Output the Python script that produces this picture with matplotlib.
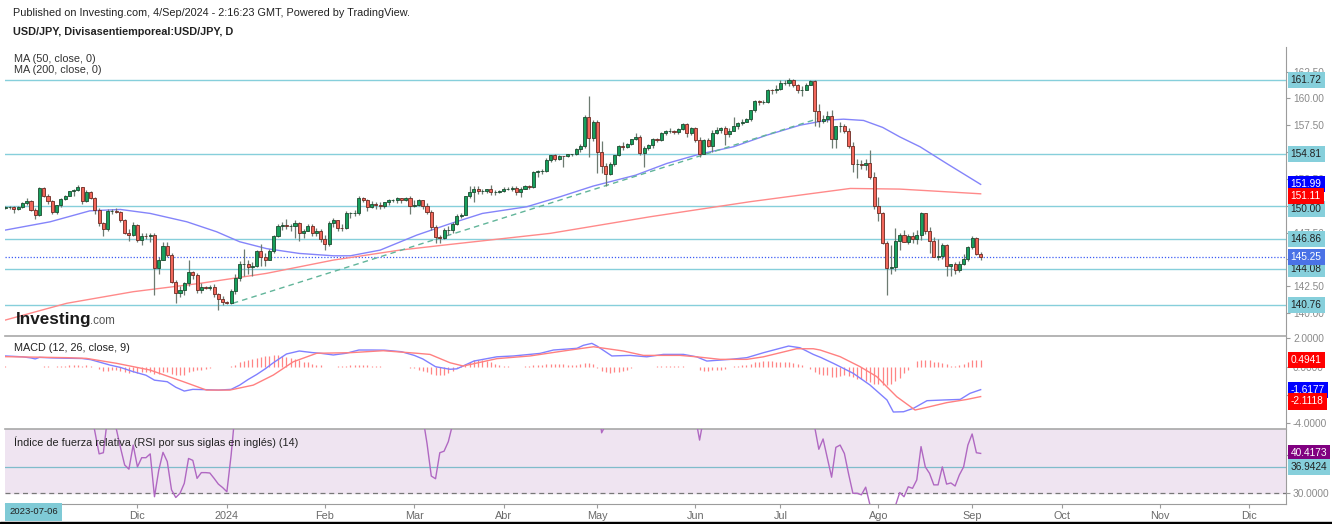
import numpy as np
import pandas as pd
import matplotlib
matplotlib.use('Agg')
import matplotlib.pyplot as plt
from matplotlib.patches import Rectangle

plt.rcParams['font.family'] = ['Liberation Sans', 'DejaVu Sans']

# ---------------- data ----------------
first_day = '2023-10-19'  # first daily bar at the left edge

# daily candles, one line per month (Oct 2023 ... Sep 2024)
opens = [
    149.80, 149.85, 149.85, 149.70, 149.90, 150.25, 150.40, 149.60, 149.10,
    151.68, 150.95, 150.40, 149.40, 150.05, 150.60, 150.95, 151.35, 151.50, 151.70, 150.40, 151.30, 150.70, 149.60, 148.35, 147.85, 149.55, 149.55, 149.45, 148.65, 147.50, 147.25,
    148.20, 146.80, 147.20, 147.15, 147.30, 144.15, 144.95, 146.20, 145.40, 142.90, 141.90, 142.15, 142.80, 143.80, 143.55, 142.10, 142.40, 142.35, 142.40, 141.80, 141.30,
    141.00, 140.95, 142.00, 143.25, 144.60, 144.60, 144.25, 144.40, 145.75, 145.25, 144.90, 145.75, 147.20, 148.15, 148.20, 148.10, 148.10, 148.40, 147.50, 147.65, 148.15, 147.50, 147.60,
    146.90, 146.40, 148.40, 148.65, 147.95, 147.90, 149.30, 149.30, 149.35, 150.75, 150.55, 149.90, 150.20, 150.10, 150.00, 150.30, 150.50, 150.50, 150.70, 150.50, 150.70,
    149.95, 150.10, 150.50, 150.00, 149.40, 148.05, 147.05, 146.95, 147.70, 147.75, 148.30, 149.05, 149.15, 150.90, 151.25, 151.60, 151.40, 151.40, 151.55, 151.30, 151.30,
    151.35, 151.60, 151.60, 151.65, 151.30, 151.60, 151.85, 151.75, 153.15, 153.25, 153.25, 154.25, 154.70, 154.40, 154.65, 154.60, 154.80, 154.80, 155.30, 155.60, 158.30, 156.35,
    157.80, 155.00, 153.70, 153.00, 153.90, 154.70, 155.55, 155.45, 155.75, 156.20, 156.45, 154.90, 155.40, 155.65, 156.25, 156.15, 156.80, 156.95, 157.00, 156.85, 157.15, 157.65, 156.80,
    157.25, 156.10, 154.85, 156.10, 155.60, 156.75, 157.05, 157.20, 156.65, 157.00, 157.40, 157.70, 157.85, 158.10, 158.90, 159.80, 159.65, 159.70, 160.80, 160.75,
    160.85, 161.45, 161.45, 161.70, 161.25, 160.75, 160.80, 161.30, 161.65, 158.85, 157.90, 158.05, 158.35, 156.20, 157.40, 157.45, 157.00, 155.60, 153.90, 153.90, 153.75, 154.00, 152.70,
    149.95, 149.35, 146.55, 144.20, 144.30, 146.75, 147.30, 146.60, 147.20, 146.85, 147.30, 149.30, 147.60, 146.70, 145.25, 145.30, 146.30, 144.35, 144.55, 144.00, 144.60, 145.00,
    146.15, 146.95, 145.50,
]
highs = [
    149.95, 150.00, 149.95, 149.95, 150.30, 150.75, 150.50, 149.80, 151.72,
    151.72, 151.10, 150.50, 150.10, 150.70, 151.00, 151.40, 151.60, 151.90, 151.72, 151.45, 151.40, 150.80, 149.75, 148.50, 149.70, 149.70, 149.75, 149.55, 148.80, 147.80, 148.50,
    148.30, 147.45, 147.50, 147.50, 147.45, 145.20, 146.60, 146.60, 145.60, 143.10, 142.50, 142.90, 144.95, 143.90, 143.70, 142.80, 142.50, 142.60, 142.70, 141.90, 141.60,
    141.10, 142.20, 143.60, 144.80, 145.95, 144.90, 144.75, 145.85, 146.40, 145.55, 146.00, 147.30, 148.30, 148.50, 148.80, 148.25, 148.70, 148.50, 147.80, 148.25, 148.30, 147.90, 147.80,
    147.25, 148.55, 148.90, 148.70, 148.25, 149.55, 149.45, 149.60, 150.90, 150.85, 150.60, 150.45, 150.30, 150.35, 150.35, 150.60, 150.60, 150.80, 150.75, 150.85, 150.90,
    150.50, 150.60, 150.55, 150.25, 149.60, 148.20, 147.30, 147.95, 148.15, 148.45, 149.20, 149.30, 150.95, 151.80, 151.85, 151.85, 151.60, 151.60, 151.97, 151.45, 151.45,
    151.75, 151.75, 151.80, 151.80, 151.75, 151.95, 151.95, 153.25, 153.30, 153.40, 154.45, 154.75, 154.80, 154.70, 154.65, 154.85, 154.85, 155.35, 155.75, 158.45, 160.20, 157.95,
    157.95, 156.00, 153.95, 154.05, 154.75, 155.65, 155.95, 155.85, 156.25, 156.75, 156.55, 155.55, 155.75, 156.35, 156.35, 156.85, 157.10, 157.20, 157.05, 157.25, 157.70, 157.75, 157.30,
    157.30, 156.40, 156.25, 156.30, 157.05, 157.35, 157.35, 157.40, 157.20, 158.25, 157.80, 158.05, 158.20, 158.95, 159.85, 159.90, 159.85, 160.85, 160.90, 161.25,
    161.70, 161.75, 161.95, 161.85, 161.35, 161.15, 161.45, 161.75, 161.75, 159.45, 158.45, 158.85, 158.90, 157.45, 157.85, 157.60, 157.20, 155.90, 154.40, 154.30, 154.35, 155.20, 153.10,
    150.85, 149.45, 146.75, 146.35, 147.90, 147.50, 147.70, 147.40, 147.55, 147.75, 149.40, 149.35, 148.05, 147.10, 146.85, 146.50, 146.40, 144.60, 144.75, 144.85, 145.50, 146.25,
    147.20, 147.05, 145.65,
]
lows = [
    149.65, 149.65, 149.35, 149.60, 149.75, 150.10, 149.50, 148.80, 149.00,
    150.80, 150.20, 149.20, 149.20, 149.90, 150.50, 150.90, 150.90, 151.40, 150.15, 150.30, 150.60, 149.20, 148.10, 147.15, 147.60, 149.20, 149.30, 148.50, 147.40, 146.70, 147.15,
    146.65, 146.30, 146.85, 146.60, 141.65, 143.60, 144.90, 145.20, 142.80, 140.95, 141.50, 141.70, 142.55, 143.20, 141.90, 141.90, 142.20, 142.10, 141.50, 140.30, 140.70,
    140.85, 140.80, 141.80, 143.00, 143.40, 143.65, 143.40, 144.30, 144.35, 144.35, 144.90, 145.60, 147.05, 147.70, 147.80, 147.60, 146.95, 146.70, 147.00, 147.60, 147.20, 147.15, 146.65,
    145.90, 146.20, 148.05, 147.60, 147.60, 147.80, 148.90, 149.00, 149.15, 150.35, 149.55, 149.75, 149.70, 149.65, 149.80, 150.10, 150.30, 150.25, 150.25, 150.40, 149.20,
    149.90, 150.00, 149.70, 149.25, 147.70, 146.50, 146.50, 146.85, 147.30, 147.50, 148.20, 148.90, 149.10, 150.70, 150.30, 151.10, 151.10, 151.20, 151.00, 151.00, 151.20,
    151.30, 151.50, 151.40, 151.00, 150.80, 151.55, 151.55, 151.65, 152.70, 152.95, 153.10, 154.05, 154.15, 154.25, 153.60, 154.55, 154.60, 154.75, 155.00, 155.35, 154.55, 156.05,
    153.05, 153.05, 151.86, 152.90, 153.70, 154.60, 155.20, 155.35, 155.70, 156.10, 154.70, 153.60, 155.20, 155.40, 155.95, 156.00, 156.60, 156.80, 156.70, 156.65, 157.10, 156.40, 156.60,
    155.95, 154.55, 154.80, 155.45, 155.00, 156.70, 156.80, 155.70, 156.45, 156.95, 157.15, 157.55, 157.80, 157.90, 158.75, 159.35, 159.45, 159.55, 160.40, 160.55,
    160.80, 161.30, 161.20, 161.05, 160.50, 160.25, 160.75, 161.25, 157.45, 157.35, 157.70, 157.80, 155.35, 155.35, 156.85, 156.80, 155.35, 153.10, 152.60, 153.40, 153.30, 152.50, 149.65,
    148.55, 146.45, 141.70, 143.60, 143.95, 145.85, 146.60, 146.40, 146.55, 146.40, 146.80, 147.40, 145.60, 145.20, 144.95, 145.00, 143.45, 143.45, 143.60, 143.80, 144.50, 144.85,
    146.00, 145.40, 144.90,
]
closes = [
    149.85, 149.85, 149.70, 149.90, 150.25, 150.40, 149.60, 149.10, 151.68,
    150.95, 150.40, 149.40, 150.05, 150.60, 150.95, 151.35, 151.50, 151.70, 150.40, 151.30, 150.70, 149.60, 148.35, 147.85, 149.55, 149.55, 149.45, 148.65, 147.50, 147.25, 148.20,
    146.80, 147.20, 147.15, 147.30, 144.15, 144.95, 146.20, 145.40, 142.90, 141.90, 142.15, 142.80, 143.80, 143.55, 142.10, 142.40, 142.35, 142.40, 141.80, 141.30, 141.00,
    140.95, 142.00, 143.25, 144.60, 144.60, 144.25, 144.40, 145.75, 145.25, 144.90, 145.75, 147.20, 148.15, 148.20, 148.10, 148.10, 148.40, 147.50, 147.65, 148.15, 147.50, 147.60, 146.90,
    146.40, 148.40, 148.65, 147.95, 147.90, 149.30, 149.30, 149.35, 150.75, 150.55, 149.90, 150.20, 150.10, 150.00, 150.30, 150.50, 150.50, 150.70, 150.50, 150.70, 149.95,
    150.10, 150.50, 150.00, 149.40, 148.05, 147.05, 146.95, 147.70, 147.75, 148.30, 149.05, 149.15, 150.90, 151.25, 151.60, 151.40, 151.40, 151.55, 151.30, 151.30, 151.35,
    151.60, 151.60, 151.65, 151.30, 151.60, 151.85, 151.75, 153.15, 153.25, 153.25, 154.25, 154.70, 154.40, 154.65, 154.60, 154.80, 154.80, 155.30, 155.60, 158.30, 156.35, 157.80,
    155.00, 153.70, 153.00, 153.90, 154.70, 155.55, 155.45, 155.75, 156.20, 156.45, 154.90, 155.40, 155.65, 156.25, 156.15, 156.80, 156.95, 157.00, 156.85, 157.15, 157.65, 156.80, 157.25,
    156.10, 154.85, 156.10, 155.60, 156.75, 157.05, 157.20, 156.65, 157.00, 157.40, 157.70, 157.85, 158.10, 158.90, 159.80, 159.65, 159.70, 160.80, 160.75, 160.85,
    161.45, 161.45, 161.70, 161.25, 160.75, 160.80, 161.30, 161.65, 158.85, 157.90, 158.05, 158.35, 156.20, 157.40, 157.45, 157.00, 155.60, 153.90, 153.90, 153.75, 154.00, 152.70, 149.95,
    149.35, 146.55, 144.20, 144.30, 146.75, 147.30, 146.60, 147.20, 146.85, 147.30, 149.30, 147.60, 146.70, 145.25, 145.30, 146.30, 144.35, 144.55, 144.00, 144.60, 145.00, 146.15,
    146.95, 145.50, 145.25,
]

# moving averages (bar number, value)
ma50_bar = [0, 10.5, 19.8, 27, 34, 42.6, 49.6, 55, 61.3, 69, 77, 81, 88, 96.6, 104.4, 112, 122.4,
            130.2, 138, 148, 155.3, 163, 171, 178.8, 186.6, 193, 196.8, 201.5, 206, 210, 214.8, 221, 229]
ma50_val = [147.73, 148.5, 149.52, 149.65, 149.28, 148.5, 147.57, 146.64, 146.0, 145.55, 145.33, 145.33,
            145.86, 147.26, 148.32, 149.28, 149.9, 150.83, 151.83, 152.85, 153.94, 154.81, 155.5, 156.58,
            157.51, 157.98, 158.07, 157.95, 157.3, 156.42, 155.49, 153.94, 151.99]
ma200_bar = [0, 14.4, 30, 45.7, 61.3, 77, 92.6, 104.4, 127.9, 151.4, 174.8, 198.4, 210, 217, 229]
ma200_val = [139.34, 140.9, 141.98, 142.76, 143.69, 144.93, 145.86, 146.39, 147.42, 148.97, 150.37,
             151.61, 151.55, 151.39, 151.11]

# drawn levels and trend line
level_lines = [161.72, 154.81, 150.00, 146.86, 144.08, 140.76]
last_price = 145.25
trend_bar = [53.4, 191]
trend_val = [140.9, 158.14]

# MACD (12, 26, close, 9)
macd_bar = [0, 4, 6, 7, 8, 11, 14, 18, 20, 23, 24.5, 27, 30, 33, 35, 38, 40, 42, 44, 47, 50, 53, 55, 57,
            59, 61, 63, 66, 69, 72, 74, 77, 80, 83, 86, 89, 93, 96, 98, 101, 104.4, 106, 110, 115.4,
            119.3, 125.5, 128.7, 134.2, 135.7, 137.7, 138.9, 142.4, 146.7, 150.6, 154.5, 159.2, 162.3,
            164.7, 170.2, 174.1, 178, 183.9, 186.6, 189.7, 191.5, 194.4, 196, 199.1, 203, 207, 208.5,
            210.9, 213.2, 216.4, 220.3, 224.2, 226.5, 229]
macd_val = [0.76, 0.7, 0.62, 0.55, 0.66, 0.62, 0.6, 0.58, 0.5, 0.25, 0.12, -0.05, -0.35, -0.6, -0.95,
            -1.06, -1.45, -1.72, -1.6, -1.62, -1.65, -1.6, -1.3, -0.9, -0.55, -0.15, 0.3, 0.9, 1.11,
            1.0, 0.95, 0.83, 0.95, 1.18, 1.18, 1.17, 1.06, 0.8, 0.55, 0.0, -0.18, -0.15, 0.4, 0.7, 0.76,
            0.94, 1.18, 1.3, 1.51, 1.65, 1.46, 0.76, 0.8, 0.7, 0.87, 0.87, 0.7, 0.4, 0.52, 0.64, 0.99,
            1.46, 1.34, 0.87, 0.65, 0.24, 0.0, -0.47, -1.29, -2.35, -3.2, -3.18, -2.94, -2.4, -2.35,
            -2.31, -1.88, -1.62]
signal_bar = [0, 14.4, 19, 26.1, 33.9, 41.8, 47.2, 52.7, 58.2, 62.9, 67.6, 73.1, 80.9, 88.7, 96.6,
              99.7, 104.4, 107.5, 115.4, 123.2, 131, 138.1, 145.1, 149.8, 158.4, 162.3, 167.8, 174.1,
              178, 185.8, 189.7, 191.3, 196, 200.7, 204.6, 209.3, 213.6, 216.4, 221, 225.8, 229]
signal_val = [0.71, 0.64, 0.59, 0.24, -0.23, -1.06, -1.65, -1.65, -1.3, -0.59, 0.35, 0.95, 0.99, 1.13,
              0.95, 0.87, 0.28, 0.05, 0.57, 0.76, 1.11, 1.41, 1.11, 0.8, 0.8, 0.7, 0.52, 0.52, 0.7,
              1.27, 1.27, 1.18, 0.71, 0.0, -0.7, -2.12, -3.06, -2.87, -2.54, -2.31, -2.11]
hist = [
    0.02, 0.0, -0.03, 0.0, 0.0, -0.02, -0.05, -0.05, 0.0, 0.03, 0.02, 0.0, 0.02, 0.05, 0.08, 0.1, 0.12,
    0.1, 0.08, 0.1, 0.05, 0.0,
    -0.15, -0.3, -0.3, -0.25, -0.25, -0.3, -0.4, -0.45, -0.4,
    -0.45, -0.4, -0.4, -0.35, -0.5, -0.5, -0.4, -0.35, -0.5,
    -0.6, -0.6, -0.55, -0.4, -0.3,
    -0.25, -0.2, -0.15, -0.1, -0.05, -0.05, 0.0,
    0.0, 0.05, 0.15, 0.3, 0.4,
    0.5, 0.55, 0.65, 0.7, 0.75, 0.75, 0.8, 0.8, 0.75, 0.7,
    0.6, 0.55, 0.45, 0.35, 0.3, 0.2, 0.15, 0.1,
    -0.05, -0.05, 0.0, 0.02,
    0.05, 0.08, 0.1, 0.12, 0.15, 0.12, 0.1, 0.08, 0.05,
    0.02, 0.0, 0.0, -0.02, -0.05, -0.05, -0.05, -0.08, -0.1,
    -0.2, -0.3, -0.4, -0.5, -0.6, -0.6, -0.55, -0.45, -0.3, -0.1,
    0.05, 0.2, 0.35, 0.45, 0.5, 0.45, 0.4, 0.3, 0.2,
    0.1, 0.05, 0.02, 0.0, 0.0, 0.0, 0.02, 0.05,
    0.1, 0.12, 0.15, 0.18, 0.2, 0.2, 0.2, 0.18, 0.15, 0.15, 0.15, 0.2, 0.25, 0.25, 0.2,
    -0.1, -0.3, -0.4, -0.45, -0.4, -0.35, -0.3, -0.2, -0.1,
    -0.02, 0.0, -0.05, 0.0, 0.0, 0.02, 0.02, 0.03, 0.03, 0.02, 0.02, 0.03, 0.0, -0.02, -0.05,
    -0.2, -0.3, -0.3, -0.25, -0.25, -0.2, -0.15, -0.05,
    0.02, 0.05, 0.1, 0.15, 0.2, 0.3, 0.35, 0.4, 0.4, 0.4, 0.35, 0.35, 0.35, 0.3, 0.25, 0.2, 0.1,
    -0.05, -0.15, -0.35, -0.5, -0.6, -0.6, -0.7, -0.7, -0.65, -0.6, -0.65,
    -0.75, -0.85, -0.9, -1.0, -1.1, -1.2, -1.25, -1.3, -1.3, -1.2, -1.0, -0.8,
    -0.45, -0.25, -0.05,
    0.4, 0.5, 0.5, 0.45, 0.35,
    0.3, 0.25, 0.2,
    0.08, 0.05, 0.1,
    0.2, 0.35, 0.45, 0.5, 0.49,
]

# RSI (14)
rsi_bar = [0, 4, 6, 7, 8, 11, 16, 17, 18, 19, 20, 22, 23, 24, 25, 26, 27, 28, 29, 30, 31, 32, 33, 34,
           35, 36, 37, 38, 39, 40, 41, 42, 43, 44, 45, 46, 47, 48, 49, 50, 51, 52, 53, 54, 55, 57, 59,
           64, 69, 75, 76, 83, 87, 95, 97, 98, 99, 100, 101, 102, 103, 104, 105, 109, 116, 124, 136,
           139, 140, 141, 144, 149, 151, 159, 162, 163, 164, 171, 181, 189, 190, 191, 192, 194, 195,
           196, 197, 198, 199, 200, 201, 202, 203, 206, 207, 209, 210, 211, 212, 213, 214, 215, 216,
           217, 218, 219, 220, 221, 222, 223, 224, 225, 226, 227, 228, 229]
rsi_val = [55, 58, 50, 48, 62, 51, 60, 62, 53, 58, 52, 40.3, 40.6, 50, 49, 47, 42, 37.4, 36.3, 42.6,
           36.9, 39.3, 39.3, 40.3, 29.1, 36.0, 40.7, 38.3, 30.9, 28.9, 30.0, 32.6, 39.1, 38.6, 33.9,
           35.4, 35.4, 35.3, 33.9, 32.4, 31.5, 30.4, 40, 52, 60, 58, 62, 68, 60, 52, 60, 66, 60, 55,
           56, 50, 43, 34.5, 33.8, 40.6, 41.0, 43.5, 48, 62, 62, 68, 78, 55, 45.8, 48, 56, 50, 55, 60,
           50, 43.9, 50, 58, 68, 60, 47.5, 41.5, 44.2, 34.2, 42.0, 42.6, 40.4, 35, 30.0, 30.0, 29.6,
           31.6, 27.0, 22, 20, 26.8, 30.2, 29.1, 31.7, 31.3, 33.5, 42.2, 36.9, 35.2, 32.2, 32.2, 36.9,
           32.4, 32.7, 31.9, 34.8, 36.9, 42.6, 45.5, 40.6, 40.42]
rsi_level = 36.9424

# last values shown in the right-hand tags
ma50_last, ma200_last = 151.99, 151.11
hist_last, macd_last, signal_last = 0.4941, -1.6177, -2.1118
rsi_last = 40.4173

# axis ticks (labels that sit fully under a tag in the reference are left blank)
price_ticks = [140.0, 142.5, 145.0, 147.5, 150.0, 152.5, 155.0, 157.5, 160.0, 162.5]
price_tick_labels = ['140.00', '142.50', '', '147.50', '', '152.50', '', '157.50', '160.00', '162.50']
macd_ticks = [2, 0, -2, -4]
macd_tick_labels = ['2.0000', '0.0000', '', '-4.0000']
rsi_ticks = [30, 40]
rsi_tick_labels = ['30.0000', '']

month_starts = ['2023-12-01', '2024-01-01', '2024-02-01', '2024-03-01', '2024-04-01', '2024-05-01',
                '2024-06-01', '2024-07-01', '2024-08-01', '2024-09-01', '2024-10-01', '2024-11-01',
                '2024-12-01']
month_labels = ['Dic', '2024', 'Feb', 'Mar', 'Abr', 'May', 'Jun', 'Jul', 'Ago', 'Sep', 'Oct', 'Nov', 'Dic']

# ---------------- figure ----------------
W, H = 1332, 524
grey = '#9c9c9c'
cyan = '#86cfdb'


def pane(top, bottom):
    # axes rectangle from pixel rows of the reference
    return [5 / W, 1 - bottom / H, 1281 / W, (bottom - top) / H]


def tag(axis, y, text, bg, fg='white', dy=0):
    axis.annotate(text, xy=(1, y), xycoords=axis.get_yaxis_transform(),
                  xytext=(3.4, dy), textcoords='offset points', ha='left', va='center',
                  fontsize=7.3, color=fg, annotation_clip=False, zorder=20,
                  bbox=dict(boxstyle='square,pad=0.3', fc=bg, ec='none'))


fig = plt.figure(figsize=(W / 100, H / 100), dpi=100)
ax = fig.add_axes(pane(47, 336))
axm = fig.add_axes(pane(336, 429), sharex=ax)
axr = fig.add_axes(pane(429, 504), sharex=ax)

days = pd.bdate_range(first_day, '2024-12-31')
x = np.arange(len(closes))
o, h, l, c = (np.array(v) for v in (opens, highs, lows, closes))
up = c >= o

# price pane
for lv in level_lines:
    ax.axhline(lv, color=cyan, lw=1.0, zorder=1)
ax.axhline(last_price, color='#3d5cf5', lw=0.9, ls=(0, (1, 1.5)), zorder=1)
ax.plot(ma50_bar, ma50_val, color='#8484fa', lw=1.0, zorder=2)
ax.plot(ma200_bar, ma200_val, color='#ff8a8a', lw=1.0, zorder=2)
ax.plot(trend_bar, trend_val, color='#62b59a', lw=1.0, ls=(0, (4, 3)), zorder=2)
ax.vlines(x, l, h, color='#6d7b71', lw=0.9, zorder=3)
ax.bar(x, np.abs(c - o), bottom=np.minimum(o, c), width=0.72,
       color=np.where(up, '#17a05d', '#f2675b'),
       edgecolor=np.where(up, '#1d4a30', '#6b2a22'), linewidth=0.6, zorder=4)
ax.set_ylim(137.85, 164.8)
ax.set_yticks(price_ticks)
ax.set_yticklabels(price_tick_labels)

for lv in level_lines:
    tag(ax, lv, f'{lv:.2f}', cyan, fg='#222222', dy=-2.6 if lv == 150.00 else 0)
tag(ax, ma50_last, f'{ma50_last:.2f}', '#0000ff')
tag(ax, ma200_last, f'{ma200_last:.2f}', '#ff0000', dy=-1.6)
tag(ax, last_price, f'{last_price:.2f}', '#4a72e6')

# MACD pane
axm.vlines(x, 0, hist, color='#ff5c5c', lw=0.9, alpha=0.75, zorder=2)
axm.plot(macd_bar, macd_val, color='#8080ff', lw=1.0, zorder=3)
axm.plot(signal_bar, signal_val, color='#ff8080', lw=1.0, zorder=3)
axm.set_ylim(-4.40, 2.17)
axm.set_yticks(macd_ticks)
axm.set_yticklabels(macd_tick_labels)
tag(axm, hist_last, f'{hist_last:.4f}', '#ff0000')
tag(axm, macd_last, f'{macd_last:.4f}', '#0000ff')
tag(axm, signal_last, f'{signal_last:.4f}', '#ff0000', dy=-3.5)

# RSI pane
axr.axhspan(30, 70, color='#efe4f1', zorder=0)
axr.axhline(30, color='#777777', lw=0.9, ls=(0, (4, 3)), zorder=1)
axr.axhline(rsi_level, color='#7fbccb', lw=0.9, zorder=1)
axr.plot(rsi_bar, rsi_val, color='#b068c2', lw=1.0, zorder=3)
axr.set_ylim(27.2, 46.8)
axr.set_yticks(rsi_ticks)
axr.set_yticklabels(rsi_tick_labels)
tag(axr, rsi_last, f'{rsi_last:.4f}', '#800080')
tag(axr, rsi_level, f'{rsi_level:.4f}', cyan, fg='#222222')

# axes styling
ax.set_xlim(-0.1, 300.7)
for a in (ax, axm, axr):
    for s in ('left', 'top', 'bottom'):
        a.spines[s].set_visible(False)
    a.spines['right'].set_color(grey)
    a.yaxis.tick_right()
    a.tick_params(axis='y', length=3, width=0.8, color=grey, labelsize=7.3,
                  labelcolor='#8a8a8a', pad=2)
for a in (axm, axr):
    a.spines['top'].set_visible(True)
    a.spines['top'].set_color('#a8a8a8')
    a.spines['top'].set_linewidth(1.2)
axr.spines['bottom'].set_visible(True)
axr.spines['bottom'].set_color(grey)
for a in (ax, axm):
    a.tick_params(axis='x', bottom=False, labelbottom=False)

tick_pos = [days.searchsorted(pd.Timestamp(m)) for m in month_starts]
axr.set_xticks(tick_pos)
axr.set_xticklabels(month_labels)
axr.tick_params(axis='x', length=3, width=0.8, color=grey, labelsize=7.8,
                labelcolor='#6a6a6a', pad=2)


# texts
def ftext(px, py, s, **kw):
    fig.text(px / W, 1 - py / H, s, **kw)


ftext(13, 13, 'Published on Investing.com, 4/Sep/2024 - 2:16:23 GMT, Powered by TradingView.',
      fontsize=7.8, color='#222222', va='center')
ftext(13, 32, 'USD/JPY, Divisasentiemporeal:USD/JPY, D', fontsize=7.8, fontweight='bold',
      color='#222222', va='center')
ftext(14, 59, 'MA (50, close, 0)', fontsize=7.8, color='#333333', va='center')
ftext(14, 70, 'MA (200, close, 0)', fontsize=7.8, color='#333333', va='center')
ftext(14, 348, 'MACD (12, 26, close, 9)', fontsize=7.8, color='#222222', va='center')
ftext(14, 442, 'Índice de fuerza relativa (RSI por sus siglas en inglés) (14)', fontsize=7.8,
      color='#222222', va='center')
ftext(16, 324, 'Investing', fontsize=12.3, fontweight='bold', color='#1a1a1a', va='baseline')
ftext(90, 324, '.com', fontsize=8.3, color='#555555', va='baseline')
ftext(9, 512, '2023-07-06', fontsize=6.8, color='#222222', va='center',
      bbox=dict(boxstyle='square,pad=0.45', fc='#7fcad6', ec='none'))

fig.add_artist(Rectangle((0, 0), 1, 2.5 / H, transform=fig.transFigure, color='black'))

fig.savefig('out.png', dpi=100)
